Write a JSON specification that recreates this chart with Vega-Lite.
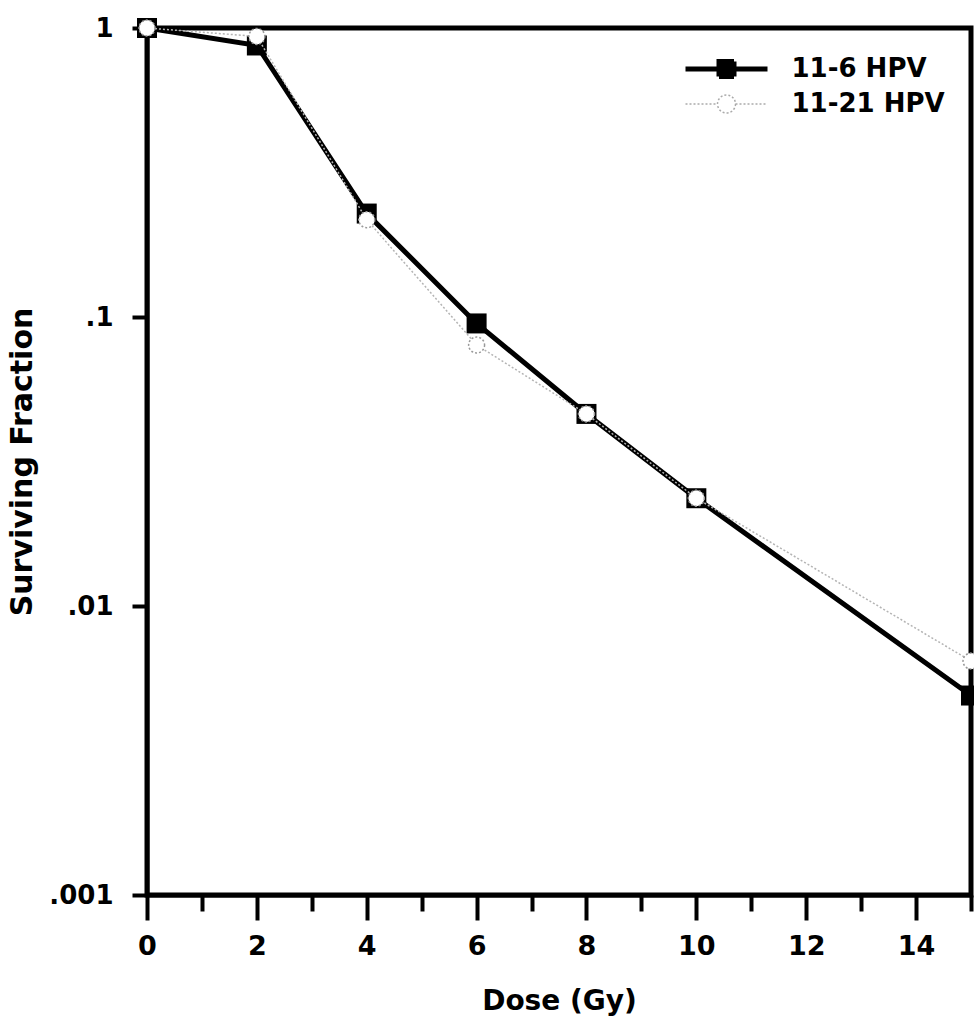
{
  "$schema": "https://vega.github.io/schema/vega-lite/v6.json",
  "width": 824,
  "height": 867,
  "autosize": {"type": "none"},
  "padding": {"left": 147, "top": 28, "right": 3, "bottom": 139},
  "background": "white",
  "config": {
    "view": {"stroke": "black", "strokeWidth": 5},
    "font": "DejaVu Sans"
  },
  "data": {
    "values": [
      {"series": "11-6 HPV", "dose": 0, "sf": 1.0},
      {"series": "11-6 HPV", "dose": 2, "sf": 0.87},
      {"series": "11-6 HPV", "dose": 4, "sf": 0.228},
      {"series": "11-6 HPV", "dose": 6, "sf": 0.095},
      {"series": "11-6 HPV", "dose": 8, "sf": 0.0462},
      {"series": "11-6 HPV", "dose": 10, "sf": 0.0236},
      {"series": "11-6 HPV", "dose": 15, "sf": 0.0049},
      {"series": "11-21 HPV", "dose": 0, "sf": 1.0},
      {"series": "11-21 HPV", "dose": 2, "sf": 0.935},
      {"series": "11-21 HPV", "dose": 4, "sf": 0.217},
      {"series": "11-21 HPV", "dose": 6, "sf": 0.08},
      {"series": "11-21 HPV", "dose": 8, "sf": 0.0462},
      {"series": "11-21 HPV", "dose": 10, "sf": 0.0236},
      {"series": "11-21 HPV", "dose": 15, "sf": 0.00645}
    ]
  },
  "encoding": {
    "x": {
      "field": "dose",
      "type": "quantitative",
      "scale": {"domain": [0, 15], "nice": false, "zero": false},
      "axis": {
        "values": [0, 1, 2, 3, 4, 5, 6, 7, 8, 9, 10, 11, 12, 13, 14, 15],
        "labelExpr": "datum.value % 2 === 0 ? datum.label : ''",
        "tickSize": {"condition": {"test": "datum.value % 2 === 0", "value": 25}, "value": 16},
        "tickWidth": 4,
        "tickColor": "black",
        "domainWidth": 4,
        "domainColor": "black",
        "grid": false,
        "labelFont": "DejaVu Sans",
        "labelFontWeight": "bold",
        "labelFontSize": 27,
        "labelColor": "black",
        "labelPadding": 13,
        "labelFlush": false,
        "labelOverlap": false,
        "title": "Dose (Gy)",
        "titleFont": "DejaVu Sans",
        "titleFontWeight": "bold",
        "titleFontSize": 28,
        "titleColor": "black",
        "titlePadding": 28
      }
    },
    "y": {
      "field": "sf",
      "type": "quantitative",
      "scale": {"type": "log", "domain": [0.001, 1], "nice": false},
      "axis": {
        "values": [0.001, 0.01, 0.1, 1],
        "labelExpr": "datum.value >= 1 ? '1' : replace(toString(datum.value), '0.', '.')",
        "tickSize": 15,
        "tickWidth": 4,
        "tickColor": "black",
        "domainWidth": 4,
        "domainColor": "black",
        "grid": false,
        "labelFont": "DejaVu Sans",
        "labelFontWeight": "bold",
        "labelFontSize": 26,
        "labelColor": "black",
        "labelPadding": 19,
        "labelFlush": false,
        "labelOverlap": false,
        "title": "Surviving Fraction",
        "titleFont": "DejaVu Sans",
        "titleFontWeight": "bold",
        "titleFontSize": 30,
        "titleColor": "black",
        "titlePadding": 11
      }
    }
  },
  "layer": [
    {
      "transform": [{"filter": "datum.series === '11-6 HPV'"}],
      "mark": {"type": "line", "color": "black", "strokeWidth": 5}
    },
    {
      "transform": [{"filter": "datum.series === '11-6 HPV'"}],
      "mark": {"type": "square", "size": 400, "color": "black", "filled": true, "opacity": 1}
    },
    {
      "transform": [{"filter": "datum.series === '11-21 HPV'"}],
      "mark": {"type": "line", "color": "#b4b4b4", "strokeWidth": 1.5, "strokeDash": [2, 2]}
    },
    {
      "transform": [{"filter": "datum.series === '11-21 HPV'"}],
      "mark": {"type": "point", "shape": "circle", "size": 254, "fill": "white", "stroke": "#999999", "strokeWidth": 1.5, "strokeDash": [2, 2], "filled": true, "opacity": 1}
    },
    {
      "transform": [{"filter": "datum.dose < 0"}],
      "mark": {"type": "point", "size": 400, "filled": true, "opacity": 1},
      "encoding": {
        "shape": {
          "field": "series",
          "type": "nominal",
          "scale": {
            "domain": ["11-6 HPV", "11-21 HPV"],
            "range": [
              "M-4.1,0H4.1M-0.75,-0.75H0.75V0.75H-0.75Z",
              "M-4.1,0H-0.9M0.9,0H4.1M0.9,0A0.9,0.9,0,1,1,-0.9,0A0.9,0.9,0,1,1,0.9,0Z"
            ]
          },
          "legend": {
            "orient": "none",
            "legendX": 566.5,
            "legendY": 28,
            "title": null,
            "padding": 0,
            "symbolSize": 400,
            "labelFont": "DejaVu Sans",
            "labelFontWeight": "bold",
            "labelFontSize": 26,
            "labelColor": "black",
            "labelOffset": 52,
            "labelLimit": 0,
            "rowPadding": 4
          }
        },
        "fill": {
          "field": "series",
          "type": "nominal",
          "scale": {"domain": ["11-6 HPV", "11-21 HPV"], "range": ["black", "white"]}
        },
        "stroke": {
          "field": "series",
          "type": "nominal",
          "scale": {"domain": ["11-6 HPV", "11-21 HPV"], "range": ["black", "#aaaaaa"]}
        },
        "strokeWidth": {
          "field": "series",
          "type": "nominal",
          "scale": {"domain": ["11-6 HPV", "11-21 HPV"], "range": [5, 1.5]}
        },
        "strokeDash": {
          "field": "series",
          "type": "nominal",
          "scale": {"domain": ["11-6 HPV", "11-21 HPV"], "range": [[1, 0], [2, 2]]}
        }
      }
    }
  ]
}
